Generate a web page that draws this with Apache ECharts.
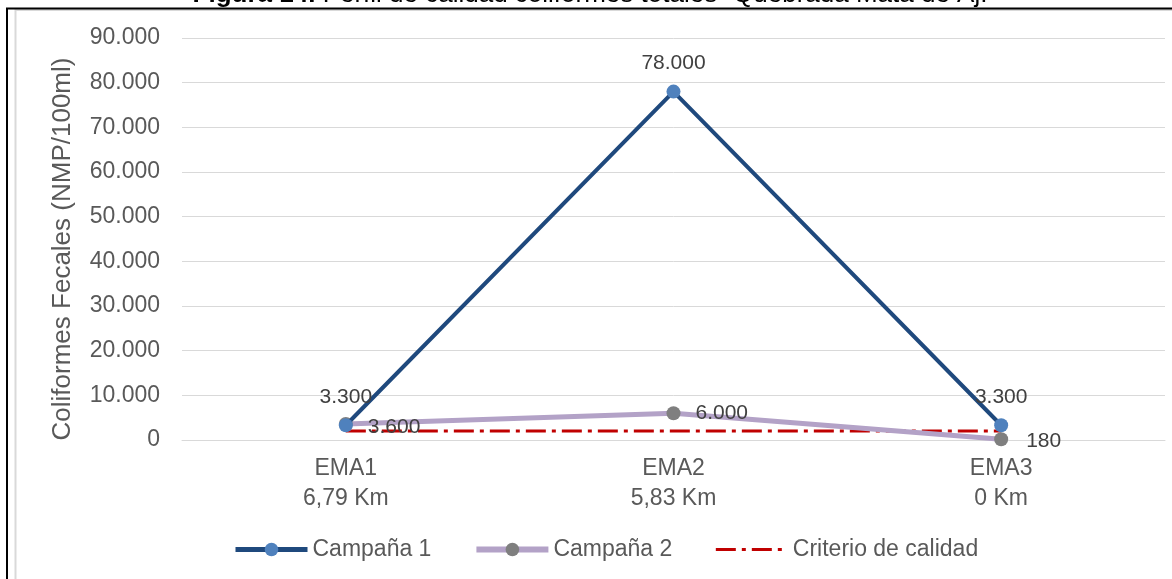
<!DOCTYPE html>
<html>
<head>
<meta charset="utf-8">
<script src="https://cdn.jsdelivr.net/npm/echarts@6/dist/echarts.min.js"></script>
<style>
html,body{margin:0;padding:0;background:#fff;}
#chart{width:1172px;height:579px;}
</style>
</head>
<body>
<div id="chart"></div>
<script>
const categories = ['EMA1\n6,79 Km', 'EMA2\n5,83 Km', 'EMA3\n0 Km'];
const campana1 = [3300, 78000, 3300];
const campana2 = [3600, 6000, 180];
const criterio = [2000, 2000, 2000];
const seriesNames = ['Campaña 1', 'Campaña 2', 'Criterio de calidad'];
const yAxisName = 'Coliformes Fecales (NMP/100ml)';
const titleBold = 'Figura 14.';
const titleText = 'Perfil de calidad coliformes totales- Quebrada Mata de Aj.';

function fmt(v) {
  return String(Math.round(v)).replace(/\B(?=(\d{3})+(?!\d))/g, '.');
}

const FONT = '"Liberation Sans", Arial, sans-serif';
const chart = echarts.init(document.getElementById('chart'), null, {renderer: 'canvas'});
chart.setOption({
  backgroundColor: '#fff',
  animation: false,
  textStyle: {fontFamily: FONT},
  graphic: [
    {type: 'rect', shape: {x: 15.5, y: 10, width: 1200, height: 600}, style: {fill: 'none', stroke: '#d9d9d9', lineWidth: 2}, silent: true},
    {type: 'line', shape: {x1: 6, y1: 8.5, x2: 1172, y2: 8.5}, style: {stroke: '#000', lineWidth: 2}},
    {type: 'line', shape: {x1: 7, y1: 8, x2: 7, y2: 579}, style: {stroke: '#000', lineWidth: 2}},
    {type: 'text', x: 590, y: -5, style: {
      text: '{b|' + titleBold + '} ' + titleText,
      rich: {b: {fontWeight: 'bold', fontSize: 26, fontFamily: FONT, fill: '#000'}},
      font: '26px ' + FONT, fill: '#000', align: 'center', verticalAlign: 'middle'
    }}
  ],
  grid: {left: 182, right: 7, top: 38, bottom: 139, containLabel: false},
  legend: {
    data: [
      {name: seriesNames[0], lineStyle: {width: 5}},
      {name: seriesNames[1], lineStyle: {width: 6}},
      {name: seriesNames[2], lineStyle: {width: 3}, itemStyle: {color: 'rgba(0,0,0,0)', borderWidth: 0}}
    ],
    top: 533,
    left: 228,
    itemWidth: 72,
    itemHeight: 17,
    itemGap: 42,
    textStyle: {fontSize: 23, color: '#595959', fontFamily: FONT}
  },
  xAxis: {
    type: 'category',
    data: categories,
    boundaryGap: true,
    axisLine: {lineStyle: {color: '#d9d9d9', width: 1}},
    axisTick: {show: false},
    axisLabel: {fontSize: 23, color: '#595959', lineHeight: 30, margin: 14, fontFamily: FONT}
  },
  yAxis: {
    type: 'value',
    min: 0, max: 90000, interval: 10000,
    name: yAxisName,
    nameLocation: 'middle',
    nameGap: 106,
    nameTextStyle: {fontSize: 26, color: '#595959', fontFamily: FONT, padding: [0, 20, 0, 0]},
    axisLine: {show: false},
    axisTick: {show: false},
    splitLine: {lineStyle: {color: '#d9d9d9', width: 1}},
    axisLabel: {fontSize: 23, color: '#595959', margin: 22, formatter: v => fmt(v), fontFamily: FONT}
  },
  series: [
    {
      name: seriesNames[0], type: 'line', data: campana1,
      symbol: 'circle', symbolSize: 14,
      lineStyle: {color: '#1f497d', width: 4},
      itemStyle: {color: '#4f81bd'},
      z: 3,
      label: {show: true, position: 'top', distance: 11, fontSize: 21, color: '#404040', formatter: p => fmt(p.value), fontFamily: FONT}
    },
    {
      name: seriesNames[1], type: 'line', data: campana2,
      symbol: 'circle', symbolSize: 14,
      lineStyle: {color: '#b3a2c7', width: 5},
      itemStyle: {color: '#7f7f7f'},
      z: 2,
      label: {show: true, position: 'right', distance: 15, fontSize: 21, color: '#404040', formatter: p => fmt(p.value), fontFamily: FONT},
      labelLayout: function (p) {
        if (p.dataIndex === 0) return {dy: 3};
        if (p.dataIndex === 2) return {dy: 2, dx: 3};
        return {};
      }
    },
    {
      name: seriesNames[2], type: 'line', data: criterio,
      symbol: 'none',
      lineStyle: {color: '#c00000', width: 3, type: [20, 6, 4, 6]},
      itemStyle: {color: '#c00000'},
      z: 1
    }
  ]
});
</script>
</body>
</html>
